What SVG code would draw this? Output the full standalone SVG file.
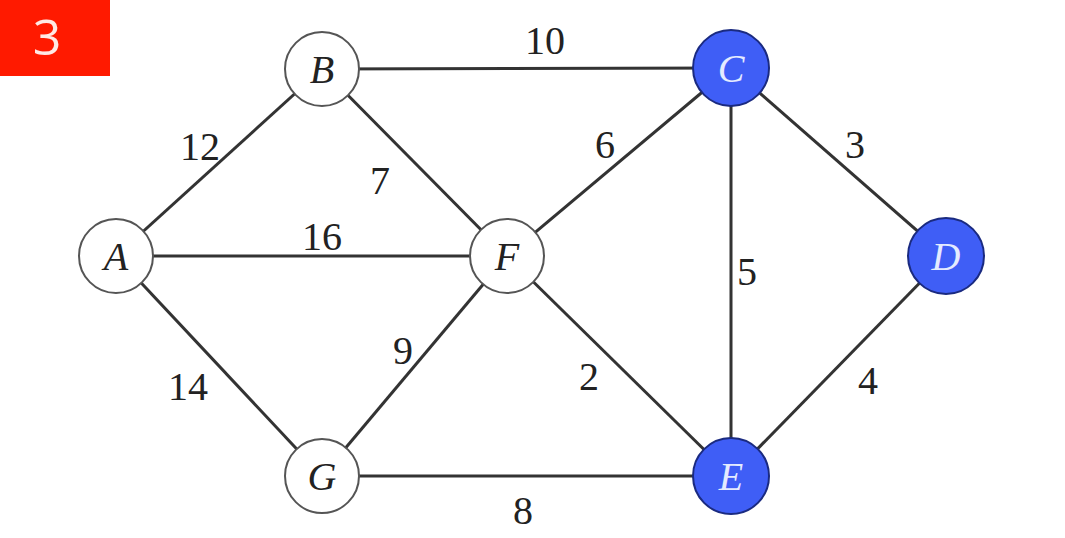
<svg xmlns="http://www.w3.org/2000/svg" width="1065" height="538" viewBox="0 0 1065 538">
<style>
.edge{stroke:#333;stroke-width:3;fill:none}
.node circle{stroke:#555;stroke-width:2}
.w circle{fill:#fff}
.b circle{fill:#3f5ef6;stroke:#1a2a80}
.nl{font-family:"Liberation Serif",serif;font-style:italic;font-size:40px;text-anchor:middle}
.w .nl{fill:#222}
.b .nl{fill:#e4ebff}
.el{font-family:"Liberation Serif",serif;font-size:40px;fill:#222;text-anchor:middle}
</style>
<rect width="1065" height="538" fill="#fff"/>
<g id="badge">
<rect x="0" y="0" width="110" height="76" fill="#ff1a00"/>
<text x="47" y="55" font-family="Open Sans, sans-serif" font-size="50" fill="#ffe9e4" text-anchor="middle">3</text>
</g>
<g id="connectors">
<line class="edge" x1="322" y1="69" x2="731" y2="68"/>
<line class="edge" x1="116" y1="256" x2="322" y2="69"/>
<line class="edge" x1="322" y1="69" x2="507" y2="256"/>
<line class="edge" x1="116" y1="256" x2="507" y2="256"/>
<line class="edge" x1="116" y1="256" x2="322" y2="476"/>
<line class="edge" x1="507" y1="256" x2="731" y2="68"/>
<line class="edge" x1="731" y1="68" x2="946" y2="256"/>
<line class="edge" x1="731" y1="68" x2="731" y2="476"/>
<line class="edge" x1="507" y1="256" x2="322" y2="476"/>
<line class="edge" x1="507" y1="256" x2="731" y2="476"/>
<line class="edge" x1="322" y1="476" x2="731" y2="476"/>
<line class="edge" x1="946" y1="256" x2="731" y2="476"/>
<text class="el" x="545" y="54">10</text>
<text class="el" x="200" y="160">12</text>
<text class="el" x="380" y="194">7</text>
<text class="el" x="605" y="158">6</text>
<text class="el" x="855" y="158">3</text>
<text class="el" x="322" y="250">16</text>
<text class="el" x="747" y="285">5</text>
<text class="el" x="403" y="364">9</text>
<text class="el" x="589" y="390">2</text>
<text class="el" x="188" y="400">14</text>
<text class="el" x="868" y="394">4</text>
<text class="el" x="523" y="524">8</text>
</g>
<g id="A" class="node w"><circle cx="116" cy="256" r="37"/><text class="nl" x="116" y="270">A</text></g>
<g id="B" class="node w"><circle cx="322" cy="69" r="37"/><text class="nl" x="322" y="83">B</text></g>
<g id="C" class="node b"><circle cx="731" cy="68" r="38"/><text class="nl" x="731" y="82">C</text></g>
<g id="D" class="node b"><circle cx="946" cy="256" r="38"/><text class="nl" x="946" y="270">D</text></g>
<g id="E" class="node b"><circle cx="731" cy="476" r="38"/><text class="nl" x="731" y="490">E</text></g>
<g id="F" class="node w"><circle cx="507" cy="256" r="37"/><text class="nl" x="507" y="270">F</text></g>
<g id="G" class="node w"><circle cx="322" cy="476" r="37"/><text class="nl" x="322" y="490">G</text></g>
</svg>
